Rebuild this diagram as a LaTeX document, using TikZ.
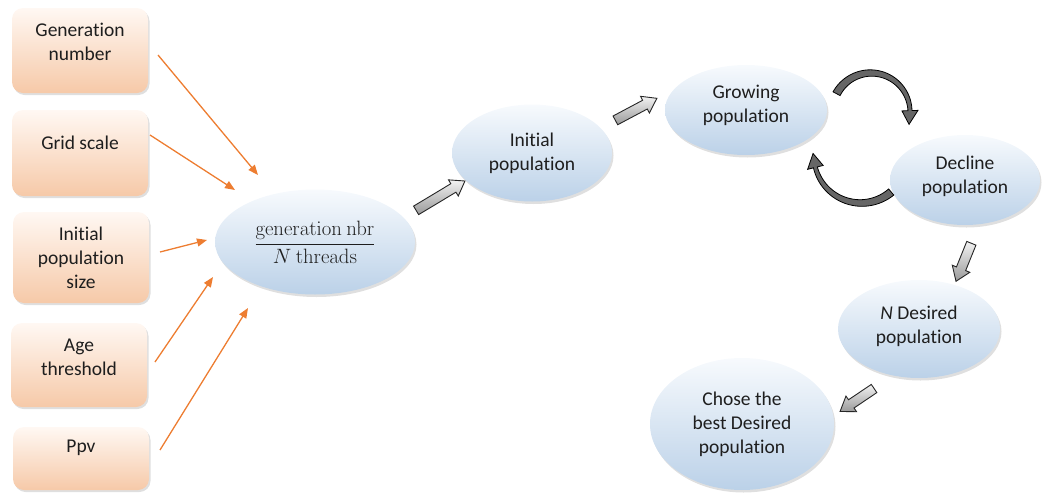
\documentclass[tikz,border=0pt]{standalone}
\usepackage[no-math]{fontspec}
\setmainfont{Carlito}[Ligatures=NoCommon]
\usetikzlibrary{shapes.geometric,shapes.arrows,shadows,arrows.meta}

\definecolor{peachtop}{HTML}{FFF8F3}
\definecolor{peachbot}{HTML}{F6C9A8}
\definecolor{bluetop}{HTML}{F7FAFD}
\definecolor{bluebot}{HTML}{BBD1E8}
\definecolor{linkorange}{HTML}{ED7D31}
\definecolor{inktext}{HTML}{1E1E1E}

\tikzset{
  inputbox/.style={rectangle, rounded corners=11pt, minimum width=136pt,
    inner sep=0pt, top color=peachtop, bottom color=peachbot,
    drop shadow={shadow xshift=1.5pt, shadow yshift=-2pt, opacity=0.25},
    font=\fontsize{19.5}{24}\selectfont, text=inktext, align=center},
  lift/.style={text depth=#1},
  stage/.style={ellipse, inner sep=0pt, top color=bluetop, bottom color=bluebot,
    drop shadow={shadow xshift=1.5pt, shadow yshift=-2.5pt, opacity=0.25},
    font=\fontsize{19.5}{24}\selectfont, text=inktext, align=center},
  feed/.style={draw=linkorange, line width=1.3pt,
    -{Triangle[length=10pt,width=8pt]}},
  blockarrow/.style={single arrow, draw=black!85, line width=0.9pt,
    inner sep=4.5pt, single arrow head extend=4.5pt, single arrow tip angle=70,
    top color=gray!10, bottom color=gray!80},
  bent/.style={draw=black, line width=0.8pt, fill=black!60}
}

% curved band arrow: centre x, centre y, radius, start angle, end angle, tip angle
\newcommand{\bentarrow}[6]{%
  \filldraw[bent]
    plot[domain=#4:#5, samples=40, variable=\t]
      ({#1+(#3+(8-4*(\t-#4)/(#5-#4))/2)*cos(\t)}, {#2+(#3+(8-4*(\t-#4)/(#5-#4))/2)*sin(\t)})
    -- ({#1+(#3+8)*cos(#5)}, {#2+(#3+8)*sin(#5)})
    -- ({#1+(#3+1)*cos(#6)}, {#2+(#3+1)*sin(#6)})
    -- ({#1+(#3-8)*cos(#5)}, {#2+(#3-8)*sin(#5)})
    -- plot[domain=#5:#4, samples=40, variable=\t]
      ({#1+(#3-(8-4*(\t-#4)/(#5-#4))/2)*cos(\t)}, {#2+(#3-(8-4*(\t-#4)/(#5-#4))/2)*sin(\t)})
    -- cycle;}

\begin{document}
\begin{tikzpicture}[x=1pt, y=-1pt]
\useasboundingbox (0,0) rectangle (1045,493);

% input parameters
\node[inputbox, minimum height=85pt, lift=17pt] (gen)  at (80,50.5)  {Generation\\number};
\node[inputbox, minimum height=86pt, lift=20pt] (grid) at (80,153)   {Grid scale};
\node[inputbox, minimum height=91pt]            (ipop) at (81,257.5) {Initial\\population\\size};
\node[inputbox, minimum height=84pt, lift=16pt] (age)  at (79,365)   {Age\\threshold};
\node[inputbox, minimum height=63pt, lift=24pt] (ppv)  at (81,458.5) {Ppv};

% population stages
\node[stage, minimum width=200pt, minimum height=105pt] (split) at (315,242)
  {\fontsize{19.5}{22}\selectfont$\displaystyle\frac{\mathrm{generation\ nbr}}{N\ \mathrm{threads}}$};
\node[stage, minimum width=160pt, minimum height=97pt] (init) at (532,153) {Initial\\population};
\node[stage, minimum width=162pt, minimum height=90pt, lift=12pt] (grow) at (746,110) {Growing\\population};
\node[stage, minimum width=150pt, minimum height=90pt, lift=10pt] (decl) at (965,180) {Decline\\population};
\node[stage, minimum width=162pt, minimum height=98pt, lift=9pt] (want) at (919,329) {\textit{N} Desired\\population};
\node[stage, minimum width=184pt, minimum height=132pt] (best) at (742,424) {Chose the\\best Desired\\population};

% feeds into the thread split
\coordinate (f1s) at (158,55);  \coordinate (f1e) at (258,175);
\coordinate (f2s) at (150,135); \coordinate (f2e) at (235,190);
\coordinate (f3s) at (160,252); \coordinate (f3e) at (207,240);
\coordinate (f4s) at (155,362); \coordinate (f4e) at (213,277);
\coordinate (f5s) at (160,450); \coordinate (f5e) at (248,308);
\draw[feed] (f1s) -- (f1e);
\draw[feed] (f2s) -- (f2e);
\draw[feed] (f3s) -- (f3e);
\draw[feed] (f4s) -- (f4e);
\draw[feed] (f5s) -- (f5e);

% block arrows between stages
\node[blockarrow, minimum height=57pt, rotate=31]  (s2i) at (437.5,197.5) {};
\node[blockarrow, minimum height=47pt, rotate=28]  (i2g) at (633,111) {};
\node[blockarrow, minimum height=41pt, rotate=-112] (d2w) at (965,259) {};
\node[blockarrow, minimum height=41pt, rotate=214] (w2b) at (860,398) {};

% growth / decline cycle
\bentarrow{871}{112}{39}{208}{358}{378}
\bentarrow{861}{156}{47}{50}{166}{183}
\end{tikzpicture}
\end{document}
